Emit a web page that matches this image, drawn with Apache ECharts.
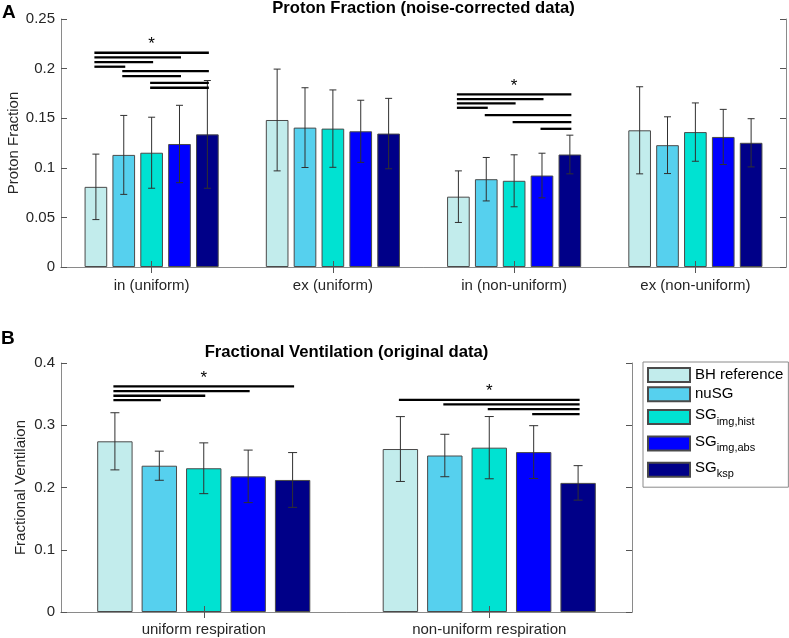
<!DOCTYPE html>
<html><head><meta charset="utf-8">
<script src="https://cdn.jsdelivr.net/npm/echarts@6/dist/echarts.min.js"></script>
<style>html,body{margin:0;padding:0;background:#fff}#c{width:789px;height:638px}</style>
</head><body><div id="c"></div>
<script>
// ---------- data ----------
const categoriesA = ['in (uniform)', 'ex (uniform)', 'in (non-uniform)', 'ex (non-uniform)'];
const categoriesB = ['uniform respiration', 'non-uniform respiration'];
const seriesNames = ['BH reference', 'nuSG', 'SG_img,hist', 'SG_img,abs', 'SG_ksp'];
const ticksA = [0, 0.05, 0.1, 0.15, 0.2, 0.25];
const ticksB = [0, 0.1, 0.2, 0.3, 0.4];

// Panel A: proton fraction (mean, SD) per method, one value per category
const pfBH    = [0.0808, 0.1482, 0.0709, 0.1378];
const pfBHsd  = [0.0330, 0.0513, 0.0260, 0.0439];
const pfNu    = [0.1130, 0.1405, 0.0885, 0.1228];
const pfNusd  = [0.0398, 0.0402, 0.0219, 0.0286];
const pfHist  = [0.1152, 0.1395, 0.0869, 0.1360];
const pfHistsd= [0.0358, 0.0390, 0.0262, 0.0294];
const pfAbs   = [0.1240, 0.1368, 0.0922, 0.1311];
const pfAbssd = [0.0390, 0.0313, 0.0225, 0.0278];
const pfKsp   = [0.1337, 0.1345, 0.1134, 0.1252];
const pfKspsd = [0.0543, 0.0355, 0.0195, 0.0243];

// Panel B: fractional ventilation (mean, SD)
const fvBH    = [0.2742, 0.2618];
const fvBHsd  = [0.0459, 0.0521];
const fvNu    = [0.2350, 0.2514];
const fvNusd  = [0.0234, 0.0341];
const fvHist  = [0.2309, 0.2640];
const fvHistsd= [0.0408, 0.0500];
const fvAbs   = [0.2179, 0.2569];
const fvAbssd = [0.0422, 0.0424];
const fvKsp   = [0.2121, 0.2074];
const fvKspsd = [0.0440, 0.0277];

// significance brackets: [category, from method, to method, y]
const sigA = [[0,0,4,0.2160],[0,0,3,0.2113],[0,0,2,0.2066],[0,0,1,0.2019],[0,1,4,0.1975],[0,1,3,0.1925],[0,2,4,0.1857],[0,2,4,0.1807],
              [2,0,4,0.1740],[2,0,3,0.1692],[2,0,2,0.1649],[2,0,1,0.1605],[2,1,4,0.1531],[2,2,4,0.1460],[2,3,4,0.1393]];
const starA = [[0,0.2248],[2,0.1824]];
const sigB = [[0,0,4,0.3624],[0,0,3,0.3549],[0,0,2,0.3474],[0,0,1,0.3404],
              [1,0,4,0.3409],[1,1,4,0.3334],[1,2,4,0.3259],[1,3,4,0.3178]];
const starB = [[0,0.3758],[1,0.3549]];

// ---------- styling ----------
const FF = '"Liberation Sans", Arial, Helvetica, sans-serif';
const colors = ['#c2ecec', '#56d0ee', '#00e2d2', '#0000ff', '#000088'];
const meansA = [pfBH, pfNu, pfHist, pfAbs, pfKsp];
const sdsA = [pfBHsd, pfNusd, pfHistsd, pfAbssd, pfKspsd];
const meansB = [fvBH, fvNu, fvHist, fvAbs, fvKsp];
const sdsB = [fvBHsd, fvNusd, fvHistsd, fvAbssd, fvKspsd];
const BWA = 0.125, GAPA = 0.23;
const BWB = 0.124, GAPB = 0.255;

function errData(means, sds) {
  const out = [];
  means.forEach((m, i) => m.forEach((v, c) => out.push([c, i, v - sds[i][c], v + sds[i][c]])));
  return out;
}
function errRender(bwf, gap, cap) {
  return function (params, api) {
    const cat = api.value(0), idx = api.value(1);
    const lo = api.coord([cat, api.value(2)]);
    const hi = api.coord([cat, api.value(3)]);
    const bw = api.size([1, 0])[0] * bwf;
    const x = lo[0] + (idx - 2) * bw * (1 + gap);
    const st = { stroke: '#303030', lineWidth: 1 };
    return { type: 'group', children: [
      { type: 'line', shape: { x1: x, y1: lo[1], x2: x, y2: hi[1] }, style: st },
      { type: 'line', shape: { x1: x - cap, y1: lo[1], x2: x + cap, y2: lo[1] }, style: st },
      { type: 'line', shape: { x1: x - cap, y1: hi[1], x2: x + cap, y2: hi[1] }, style: st }
    ]};
  };
}
function sigRender(bwf, gap) {
  return function (params, api) {
    const p = api.coord([api.value(0), api.value(3)]);
    const bw = api.size([1, 0])[0] * bwf;
    const step = bw * (1 + gap);
    return { type: 'line', shape: { x1: p[0] + (api.value(1) - 2) * step - 1.5, y1: p[1], x2: p[0] + (api.value(2) - 2) * step + 1.5, y2: p[1] },
      style: { stroke: '#000', lineWidth: 2.3 } };
  };
}
function starRender(params, api) {
  const p = api.coord([api.value(0), api.value(1)]);
  return { type: 'text', style: { text: '*', x: p[0], y: p[1], align: 'center', verticalAlign: 'middle', fontSize: 17, fontFamily: FF, fill: '#000' } };
}

function xAx(cats, grid, pos, margin) {
  const bottom = pos === 'bottom';
  return { type: 'category', data: cats, gridIndex: grid, position: pos, z: 3,
    axisLine: { show: true, lineStyle: { color: '#8a8a8a', width: 1 } },
    axisTick: { show: true, inside: true, alignWithLabel: true, length: 6, lineStyle: { color: '#555' } },
    axisLabel: { show: bottom, margin: margin, fontSize: 15, color: '#262626', fontFamily: FF },
    splitLine: { show: false } };
}
function yAx(ticks, grid, pos, name, gapN) {
  const left = pos === 'left';
  return { type: 'value', gridIndex: grid, position: pos, min: ticks[0], max: ticks[ticks.length - 1],
    interval: ticks[1] - ticks[0], z: 3,
    name: left ? name : '', nameLocation: 'middle', nameGap: gapN, nameMoveOverlap: false,
    nameTextStyle: { fontSize: 15, color: '#262626', fontFamily: FF },
    axisLine: { show: true, lineStyle: { color: '#8a8a8a', width: 1 } },
    axisTick: { show: true, inside: true, length: 6, lineStyle: { color: '#555' } },
    axisLabel: { show: left, margin: 6, fontSize: 15, color: '#262626', fontFamily: FF },
    splitLine: { show: false } };
}

const series = [];
seriesNames.forEach((n, i) => {
  series.push({ type: 'bar', name: n, xAxisIndex: 0, yAxisIndex: 0, data: meansA[i],
    barWidth: (BWA * 100) + '%', barGap: (GAPA * 100) + '%',
    itemStyle: { color: colors[i], borderColor: '#4a4a4a', borderWidth: 1 }, emphasis: { disabled: true } });
});
seriesNames.forEach((n, i) => {
  series.push({ type: 'bar', name: n, xAxisIndex: 2, yAxisIndex: 2, data: meansB[i],
    barWidth: (BWB * 100) + '%', barGap: (GAPB * 100) + '%',
    itemStyle: { color: colors[i], borderColor: '#4a4a4a', borderWidth: 1 }, emphasis: { disabled: true } });
});
series.push({ type: 'custom', xAxisIndex: 0, yAxisIndex: 0, z: 4, data: errData(meansA, sdsA), encode: { x: 0, y: [2, 3] }, renderItem: errRender(BWA, GAPA, 3.5), silent: true });
series.push({ type: 'custom', xAxisIndex: 2, yAxisIndex: 2, z: 4, data: errData(meansB, sdsB), encode: { x: 0, y: [2, 3] }, renderItem: errRender(BWB, GAPB, 4.5), silent: true });
series.push({ type: 'custom', xAxisIndex: 0, yAxisIndex: 0, z: 5, data: sigA, encode: { x: 0, y: 3 }, renderItem: sigRender(BWA, GAPA), silent: true });
series.push({ type: 'custom', xAxisIndex: 2, yAxisIndex: 2, z: 5, data: sigB, encode: { x: 0, y: 3 }, renderItem: sigRender(BWB, GAPB), silent: true });
series.push({ type: 'custom', xAxisIndex: 0, yAxisIndex: 0, z: 5, data: starA, encode: { x: 0, y: 1 }, renderItem: starRender, silent: true });
series.push({ type: 'custom', xAxisIndex: 2, yAxisIndex: 2, z: 5, data: starB, encode: { x: 0, y: 1 }, renderItem: starRender, silent: true });

const chart = echarts.init(document.getElementById('c'), null, { renderer: 'canvas' });
chart.setOption({
  animation: false,
  backgroundColor: '#fff',
  textStyle: { fontFamily: FF },
  title: [
    { text: 'Proton Fraction (noise-corrected data)', left: 423.5, top: 0, textAlign: 'center', padding: 0,
      textStyle: { fontSize: 16.6, fontWeight: 'bold', color: '#000', fontFamily: FF } },
    { text: 'Fractional Ventilation (original data)', left: 346.5, top: 344, textAlign: 'center', padding: 0,
      textStyle: { fontSize: 16.7, fontWeight: 'bold', color: '#000', fontFamily: FF } }
  ],
  graphic: [
    { type: 'text', left: 2, top: 3, style: { text: 'A', fontSize: 19, fontWeight: 'bold', fill: '#000', fontFamily: FF } },
    { type: 'text', left: 1, top: 329, style: { text: 'B', fontSize: 19, fontWeight: 'bold', fill: '#000', fontFamily: FF } }
  ],
  legend: {
    orient: 'vertical', left: 643, top: 362, padding: [5, 5, 6, 4],
    itemWidth: 42, itemHeight: 14, itemGap: 3.3, itemTextGap: 2,
    borderColor: '#8a8a8a', borderWidth: 1, selectedMode: false,
    data: seriesNames, icon: 'rect',
    formatter: function (n) {
      const k = n.indexOf('_');
      return k < 0 ? '{p|' + n + '}' : '{m|' + n.slice(0, k) + '}{s|' + n.slice(k + 1) + '}';
    },
    textStyle: { fontSize: 15, color: '#000', fontFamily: FF,
      rich: {
        p: { fontSize: 15, lineHeight: 17, fontFamily: FF, color: '#000' },
        m: { fontSize: 15, height: 15, lineHeight: 23, padding: [2, 0, 0, 0], verticalAlign: 'top', fontFamily: FF, color: '#000' },
        s: { fontSize: 11, height: 12, lineHeight: 23, padding: [10, 0, 1, 0], verticalAlign: 'top', fontFamily: FF, color: '#000' }
      } }
  },
  grid: [
    { left: 61, top: 19, width: 725, height: 248, containLabel: false, outerBoundsMode: 'none' },
    { left: 61, top: 363, width: 571, height: 249, containLabel: false, outerBoundsMode: 'none' }
  ],
  xAxis: [xAx(categoriesA, 0, 'bottom', 11), xAx(categoriesA, 0, 'top', 0), xAx(categoriesB, 1, 'bottom', 10), xAx(categoriesB, 1, 'top', 0)],
  yAxis: [yAx(ticksA, 0, 'left', 'Proton Fraction', 40), yAx(ticksA, 0, 'right', '', 0),
          yAx(ticksB, 1, 'left', 'Fractional Ventilaion', 32.5), yAx(ticksB, 1, 'right', '', 0)],
  series: series
});
</script></body></html>
